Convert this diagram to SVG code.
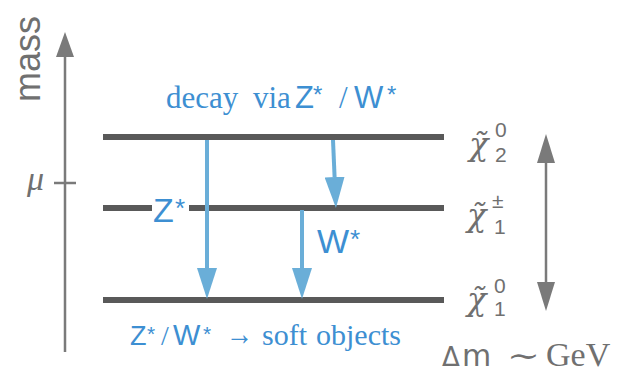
<svg xmlns="http://www.w3.org/2000/svg" width="640" height="376" viewBox="0 0 640 376">
<style>
.lvl{stroke:#595959;stroke-width:6;fill:none}
.ax{stroke:#7a7a7a;stroke-width:2.5;fill:none}
.dec{stroke:#6aaed8;stroke-width:4;fill:none}
.gt{fill:#707070}
.bt{fill:#3d8fd2}
.serif{font-family:"Liberation Serif","DejaVu Serif",serif}
.sans{font-family:"Liberation Sans","DejaVu Sans",sans-serif}
.dsans{font-family:"DejaVu Sans",sans-serif}
.chi{font-family:"DejaVu Serif",serif;font-style:italic;font-size:32px}
.idx{font-family:"Liberation Sans",sans-serif;font-size:21px;font-style:normal}
</style>
<defs>
<marker id="ba" viewBox="0 0 31 20" refX="0" refY="10" markerWidth="31" markerHeight="20" markerUnits="userSpaceOnUse" orient="auto"><path d="M0,0L31,10L0,20z" fill="#6aaed8"/></marker>
</defs>
<g id="mass-axis">
<line class="ax" x1="65" y1="352" x2="65" y2="55"/>
<path d="M56,57L65,32L74,57z" fill="#7a7a7a"/>
<line class="ax" x1="54" y1="183" x2="76" y2="183"/>
<text class="sans gt" font-size="36" transform="translate(40,102) rotate(-90)">mass</text>
<text class="serif gt" font-size="34" font-style="italic" x="27" y="190">μ</text>
</g>
<g id="chi2">
<line class="lvl" x1="103" y1="137" x2="444" y2="137"/>
<text class="chi gt" x="469" y="155">χ̃<tspan class="idx" x="495" y="137">0</tspan><tspan class="idx" x="495" y="162">2</tspan></text>
</g>
<g id="chi1pm">
<line class="lvl" x1="103" y1="208" x2="152" y2="208"/>
<line class="lvl" x1="189" y1="208" x2="444" y2="208"/>
<text class="chi gt" x="467" y="226">χ̃<tspan class="idx" x="492" y="208">±</tspan><tspan class="idx" x="494" y="234">1</tspan></text>
</g>
<g id="chi1">
<line class="lvl" x1="103" y1="300" x2="444" y2="300"/>
<text class="chi gt" x="467" y="310">χ̃<tspan class="idx" x="494" y="293">0</tspan><tspan class="idx" x="494" y="316">1</tspan></text>
</g>
<g id="delta">
<line class="ax" x1="546" y1="155" x2="546" y2="290"/>
<path d="M537,163L546,134L555,163z" fill="#7a7a7a"/>
<path d="M537,282L546,311L555,282z" fill="#7a7a7a"/>
<text class="gt" y="366"><tspan class="dsans" font-size="26" x="442">Δ</tspan><tspan class="dsans" font-size="30" x="462">m</tspan><tspan class="serif" font-size="30" x="507" textLength="33" lengthAdjust="spacingAndGlyphs">∼</tspan><tspan class="serif" font-size="34" x="546">GeV</tspan></text>
</g>
<g id="connectors">
<line class="dec" x1="207" y1="140" x2="207" y2="268" marker-end="url(#ba)"/>
<line class="dec" x1="333" y1="140" x2="334.6" y2="177" marker-end="url(#ba)"/>
<line class="dec" x1="302" y1="210" x2="302" y2="268" marker-end="url(#ba)"/>
</g>
<g id="labels">
<text class="bt" y="108"><tspan class="serif" font-size="31" x="166">decay</tspan><tspan class="serif" font-size="31" x="253">via</tspan><tspan class="sans" font-size="31" x="295">Z</tspan><tspan class="sans" font-size="24" x="313" dy="-5">*</tspan><tspan class="serif" font-size="31" x="339" dy="5">/</tspan><tspan class="sans" font-size="31" x="354">W</tspan><tspan class="sans" font-size="24" x="387" dy="-5">*</tspan></text>
<text class="bt sans" font-size="34" x="153" y="222">Z<tspan font-size="26" x="175" dy="-5">*</tspan></text>
<text class="bt sans" font-size="34" x="317" y="253">W<tspan font-size="26" x="350" dy="-5">*</tspan></text>
<text class="bt" y="345"><tspan class="sans" font-size="27" x="130">Z</tspan><tspan class="sans" font-size="21" x="147" dy="-4">*</tspan><tspan class="serif" font-size="28" x="161" dy="4">/</tspan><tspan class="sans" font-size="29" x="173">W</tspan><tspan class="sans" font-size="21" x="203" dy="-4">*</tspan><tspan class="serif" font-size="34" x="226" dy="4" textLength="27" lengthAdjust="spacingAndGlyphs">→</tspan><tspan class="serif" font-size="30" x="262">soft</tspan><tspan class="serif" font-size="30" x="316">objects</tspan></text>
</g>
</svg>
